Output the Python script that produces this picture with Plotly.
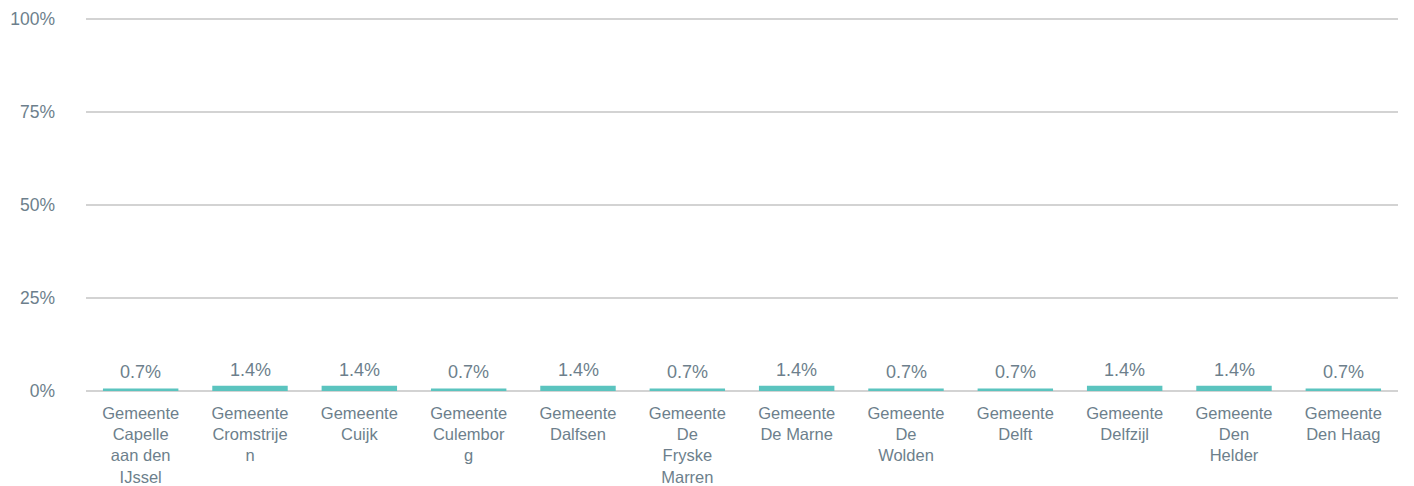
import plotly.graph_objects as go

categories = [
    "Gemeente<br>Capelle<br>aan den<br>IJssel",
    "Gemeente<br>Cromstrije<br>n",
    "Gemeente<br>Cuijk",
    "Gemeente<br>Culembor<br>g",
    "Gemeente<br>Dalfsen",
    "Gemeente<br>De<br>Fryske<br>Marren",
    "Gemeente<br>De Marne",
    "Gemeente<br>De<br>Wolden",
    "Gemeente<br>Delft",
    "Gemeente<br>Delfzijl",
    "Gemeente<br>Den<br>Helder",
    "Gemeente<br>Den Haag",
]
values = [0.7, 1.4, 1.4, 0.7, 1.4, 0.7, 1.4, 0.7, 0.7, 1.4, 1.4, 0.7]
labels = [f"{v:.1f}%" for v in values]
y_ticks = [0, 25, 50, 75, 100]
y_ticktext = ["0%", "25%", "50%", "75%", "100%"]

TXT = "#6d7f8c"
FONT = "Liberation Sans, Arial, sans-serif"

fig = go.Figure(go.Bar(
    x=categories, y=values,
    marker=dict(color="#5bc4bf", line=dict(width=0)),
    cliponaxis=False,
))
for c, v, t in zip(categories, values, labels):
    fig.add_annotation(x=c, y=v, text=t, showarrow=False, yanchor="middle",
                       yshift=16, font=dict(color=TXT, size=18, family=FONT))
fig.update_layout(
    width=1414, height=486,
    margin=dict(l=78, r=24, t=9, b=103),
    paper_bgcolor="white", plot_bgcolor="white",
    bargap=0.31, showlegend=False,
    font=dict(family=FONT, color=TXT, size=17),
)
fig.update_yaxes(range=[0, 100.5], tickvals=y_ticks, ticktext=y_ticktext,
                 showgrid=True, gridcolor="#d3d3d3", gridwidth=2,
                 zeroline=True, zerolinecolor="#d3d3d3", zerolinewidth=2,
                 ticklabelstandoff=30, automargin=False,
                 tickfont=dict(size=17.5, color=TXT), fixedrange=True)
fig.update_xaxes(tickfont=dict(size=16.5, color=TXT), tickangle=0, showline=False,
                 ticks="", automargin=False, ticklabelstandoff=10)
fig.write_html("out.html")
